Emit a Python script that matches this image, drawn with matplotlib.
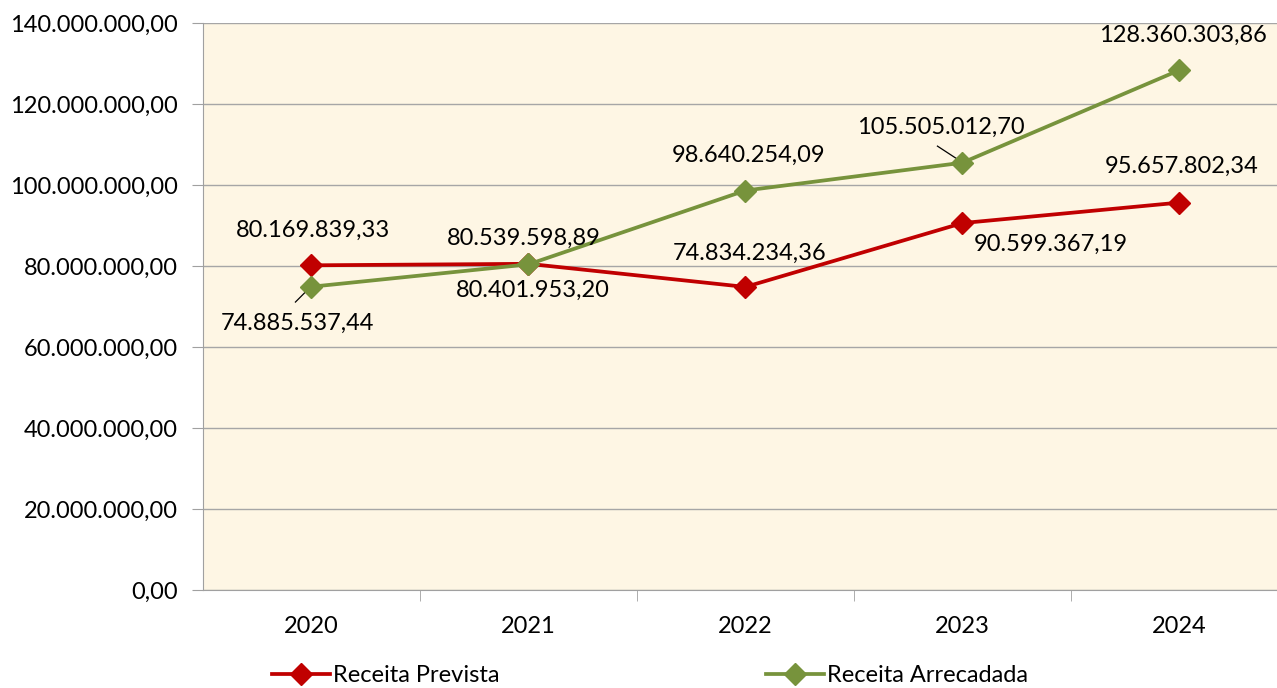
import matplotlib
matplotlib.use("Agg")
import matplotlib.pyplot as plt
from matplotlib.ticker import FuncFormatter

years = ["2020", "2021", "2022", "2023", "2024"]
prevista = [80169839.33, 80539598.89, 74834234.36, 90599367.19, 95657802.34]
arrecadada = [74885537.44, 80401953.20, 98640254.09, 105505012.70, 128360303.86]
y_ticks = [0, 20e6, 40e6, 60e6, 80e6, 100e6, 120e6, 140e6]


def br(v):
    s = f"{v:,.2f}"
    return s.replace(",", "X").replace(".", ",").replace("X", ".")


plt.rcParams['font.family'] = ['Lato', 'DejaVu Sans']
W, H = 1277, 688
fig = plt.figure(figsize=(W / 100, H / 100), dpi=100)
ax = fig.add_axes([203 / W, 1 - 590 / H, (1277 - 203) / W, (590 - 23) / H])
ax.set_facecolor("#FEF6E4")

red = "#C00000"
green = "#77933C"
x = list(range(len(years)))
ax.plot(x, prevista, color=red, lw=2.7, marker="D", ms=11.5, zorder=3, label="Receita Prevista")
ax.plot(x, arrecadada, color=green, lw=2.7, marker="D", ms=11.5, zorder=3, label="Receita Arrecadada")

ax.set_xlim(-0.5, 4.45)
ax.set_ylim(0, 140e6)
ax.set_yticks(y_ticks)
ax.yaxis.set_major_formatter(FuncFormatter(lambda v, p: br(v)))
ax.set_xticks(x)
ax.set_xticklabels(years)
ax.set_xticks([0.5, 1.5, 2.5, 3.5], minor=True)
fs = 17
ax.tick_params(axis="x", which="major", length=0, pad=19, labelsize=fs)
ax.tick_params(axis="x", which="minor", length=8, color="#A0A0A0")
ax.tick_params(axis="y", length=8, color="#A0A0A0", labelsize=fs, pad=10)
ax.grid(axis="y", color="#A6A6A6", lw=1)
ax.set_axisbelow(True)
for s in ["top", "right"]:
    ax.spines[s].set_visible(False)
for s in ["left", "bottom"]:
    ax.spines[s].set_color("#A0A0A0")

# label placement (x, y in data coords)
prev_pos = [(0.005, 88.9e6), (0.977, 86.9e6), (2.018, 83.2e6), (3.406, 85.4e6), (4.009, 104.7e6)]
arr_pos = [(-0.065, 65.9e6), (1.018, 74.1e6), (2.014, 107.4e6), (2.899, 114.3e6), (4.018, 137.0e6)]
for v, (lx, ly) in zip(prevista, prev_pos):
    ax.text(lx, ly, br(v), ha="center", va="center", fontsize=fs)
for v, (lx, ly) in zip(arrecadada, arr_pos):
    ax.text(lx, ly, br(v), ha="center", va="center", fontsize=fs)

# leader lines
ax.plot([-0.074, -0.005], [71.1e6, 74.8e6], color="black", lw=0.9, zorder=2)
ax.plot([2.885, 3.005], [109.6e6, 105.4e6], color="black", lw=0.9, zorder=2)

leg = fig.legend(loc="center left", bbox_to_anchor=(272 / W, 1 - 676 / H), ncol=2, frameon=False,
                 fontsize=fs, columnspacing=11.3, handlelength=2.45, handletextpad=0.13,
                 borderpad=0, borderaxespad=0)

fig.savefig("out.png", dpi=100)
